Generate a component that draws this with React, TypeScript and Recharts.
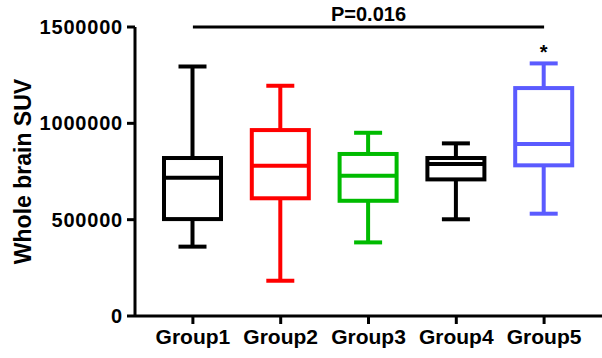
import React from "react";
import { ComposedChart, Bar, XAxis, YAxis, ReferenceLine } from "recharts";

const groups = ["Group1", "Group2", "Group3", "Group4", "Group5"];
const mins = [360000, 183000, 382000, 502000, 531000];
const q1s = [503000, 611000, 598000, 709000, 782000];
const medians = [718000, 780000, 728000, 789000, 893000];
const q3s = [820000, 965000, 841000, 820000, 1183000];
const maxs = [1295000, 1195000, 951000, 896000, 1311000];
const colors = ["#000000", "#ff0000", "#00bb00", "#000000", "#5b5bff"];
const starred = ["Group5"];
const yTicks = [0, 500000, 1000000, 1500000];
const pText = "P=0.016";

const data = groups.map((name, i) => ({
  name,
  min: mins[i],
  q1: q1s[i],
  median: medians[i],
  q3: q3s[i],
  max: maxs[i],
  color: colors[i],
  star: starred.includes(name),
}));

const FONT = "'Liberation Sans', Arial, sans-serif";

const BoxShape = (props: any) => {
  const { x, y, width, height, payload } = props;
  const { min, q1, median, q3, max, color, star } = payload;
  const k = height / (max - min);
  const sy = (v: number) => y + (max - v) * k;
  const cx = x + width / 2;
  const cap = 14;
  const sw = 4;
  return (
    <g>
      <line x1={cx} x2={cx} y1={sy(max)} y2={sy(q3)} stroke={color} strokeWidth={sw} />
      <line x1={cx} x2={cx} y1={sy(q1)} y2={sy(min)} stroke={color} strokeWidth={sw} />
      <line x1={cx - cap} x2={cx + cap} y1={sy(max)} y2={sy(max)} stroke={color} strokeWidth={sw} />
      <line x1={cx - cap} x2={cx + cap} y1={sy(min)} y2={sy(min)} stroke={color} strokeWidth={sw} />
      <rect x={x} y={sy(q3)} width={width} height={sy(q1) - sy(q3)} fill="none" stroke={color} strokeWidth={sw} />
      <line x1={x} x2={x + width} y1={sy(median)} y2={sy(median)} stroke={color} strokeWidth={sw} />
      {star && (
        <text x={cx} y={sy(max) - 4} textAnchor="middle" fontFamily={FONT} fontWeight="bold" fontSize={20} fill="#000">
          *
        </text>
      )}
    </g>
  );
};

const YLabel = (props: any) => {
  const vb = props.viewBox || {};
  const cy = vb.y + vb.height / 2;
  return (
    <text
      x={23}
      y={cy}
      transform={`rotate(-90 23 ${cy})`}
      textAnchor="middle"
      dominantBaseline="central"
      fontFamily={FONT}
      fontWeight="bold"
      fontSize={23}
      fill="#000"
    >
      Whole brain SUV
    </text>
  );
};

export default function App() {
  const axisProps = {
    stroke: "#000",
    strokeWidth: 3,
    tickSize: 8,
    tick: { fill: "#000", fontSize: 21, fontWeight: "bold", fontFamily: FONT },
  };
  return (
    <div style={{ width: 602, height: 358, background: "#fff" }}>
      <style>{"body{margin:0}"}</style>
      <ComposedChart width={602} height={358} data={data} margin={{ top: 27, right: 0, bottom: 0, left: 0 }}>
        <XAxis
          dataKey="name"
          {...axisProps}
          height={42}
          padding={{ left: 14, right: 14 }}
          tickMargin={5}
        />
        <YAxis
          {...axisProps}
          tick={{ ...axisProps.tick, fontSize: 20, letterSpacing: 0.8 }}
          width={135}
          domain={[0, 1500000]}
          ticks={yTicks}
          tickMargin={4}
          interval={0}
          label={<YLabel />}
        />
        <ReferenceLine
          segment={[
            { x: "Group1", y: 1500000 },
            { x: "Group5", y: 1500000 },
          ]}
          stroke="#000"
          strokeWidth={3}
          ifOverflow="visible"
          label={{ value: pText, position: "top", fill: "#000", fontSize: 20, fontWeight: "bold", fontFamily: FONT, offset: 6 }}
        />
        <Bar
          dataKey={(d: any) => [d.min, d.max]}
          barSize={57}
          shape={BoxShape}
          isAnimationActive={false}
        />
      </ComposedChart>
    </div>
  );
}
